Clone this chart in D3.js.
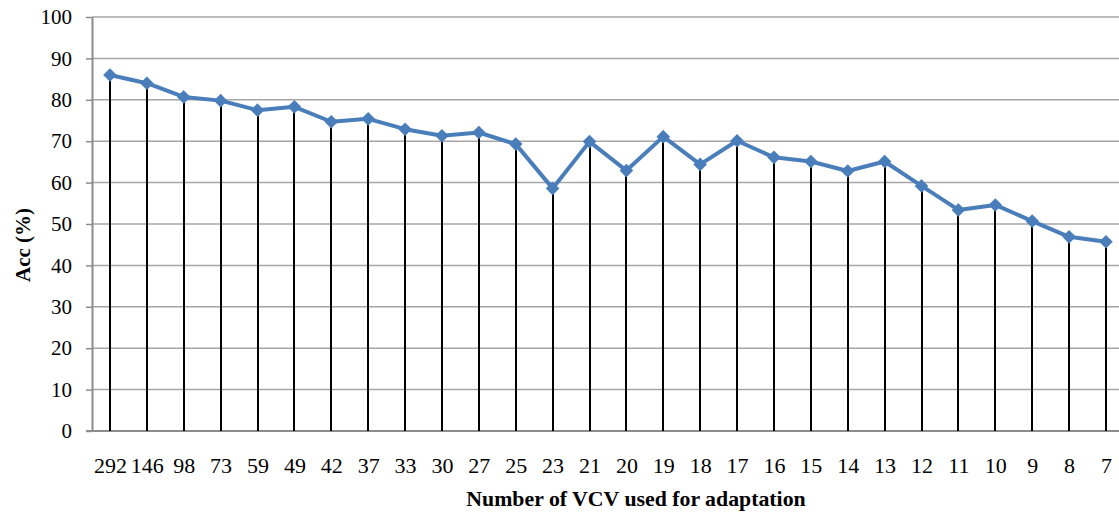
<!DOCTYPE html>
<html>
<head>
<meta charset="utf-8">
<script src="https://cdn.jsdelivr.net/npm/d3@7"></script>
<style>
  html, body { margin: 0; padding: 0; background: #fff; }
  svg { display: block; }
  text { font-family: "Liberation Serif", "Times New Roman", serif; fill: #000; }
</style>
</head>
<body>
<svg id="chart" width="1119" height="513"></svg>
<script>
// Number of VCV samples used for adaptation (x categories)
const categories = ["292", "146", "98", "73", "59", "49", "42", "37", "33", "30", "27", "25", "23", "21",
                    "20", "19", "18", "17", "16", "15", "14", "13", "12", "11", "10", "9", "8", "7"];
// Recognition accuracy (%) for each category
const accuracy = [86.0, 84.0, 80.7, 79.8, 77.5, 78.3, 74.7, 75.4, 72.9, 71.3, 72.1, 69.3, 58.6, 69.9,
                  62.9, 71.1, 64.4, 70.1, 66.1, 65.1, 62.8, 65.1, 59.2, 53.4, 54.6, 50.7, 46.9, 45.7];
// Y axis tick values
const yTicks = [0, 10, 20, 30, 40, 50, 60, 70, 80, 90, 100];

const W = 1119, H = 513;
const plot = { left: 92, right: 1124.4, top: 17, bottom: 431 };
const serif = "'Liberation Serif', 'Times New Roman', serif";

const svg = d3.select("#chart");

const x = d3.scalePoint()
  .domain(categories)
  .range([plot.left - 0.5, plot.right])
  .padding(0.5);

const y = d3.scaleLinear()
  .domain([0, 100])
  .range([plot.bottom, plot.top]);

// Horizontal gridlines
svg.append("g")
  .selectAll("line")
  .data(yTicks.filter(d => d > 0))
  .join("line")
  .attr("x1", plot.left)
  .attr("x2", W)
  .attr("y1", d => y(d))
  .attr("y2", d => y(d))
  .attr("stroke", "#a6a6a6")
  .attr("stroke-width", 1.5);

// Y axis
const yAxis = svg.append("g")
  .attr("transform", `translate(${plot.left},0)`)
  .call(d3.axisLeft(y).tickValues(yTicks).tickSize(6).tickPadding(14).tickSizeOuter(0))
  .attr("font-family", serif)
  .attr("font-size", 21);
yAxis.select(".domain").attr("stroke", "#8c8c8c").attr("stroke-width", 2);
yAxis.selectAll(".tick line").attr("stroke", "#8c8c8c").attr("stroke-width", 1.5);
yAxis.selectAll(".tick text").attr("fill", "#000");

// X axis
const xAxis = svg.append("g")
  .attr("transform", `translate(0,${plot.bottom})`)
  .call(d3.axisBottom(x).tickSize(0).tickPadding(26).tickSizeOuter(0))
  .attr("font-family", serif)
  .attr("font-size", 22);
xAxis.select(".domain").attr("stroke", "#8c8c8c").attr("stroke-width", 2)
  .attr("d", `M${plot.left - 6},0H${W}`);
xAxis.selectAll(".tick text").attr("fill", "#000");

// Drop lines from each point to the baseline
svg.append("g")
  .selectAll("line")
  .data(categories)
  .join("line")
  .attr("x1", d => Math.round(x(d)))
  .attr("x2", d => Math.round(x(d)))
  .attr("y1", (d, i) => y(accuracy[i]))
  .attr("y2", y(0))
  .attr("stroke", "#000")
  .attr("stroke-width", 2);

// Accuracy line
const line = d3.line()
  .x((d, i) => x(categories[i]))
  .y(d => y(d));

svg.append("path")
  .datum(accuracy)
  .attr("d", line)
  .attr("fill", "none")
  .attr("stroke", "#4a7ebb")
  .attr("stroke-width", 4)
  .attr("stroke-linejoin", "round");

// Diamond markers
const diamond = d3.symbol().type(d3.symbolDiamond2).size(84);
svg.append("g")
  .selectAll("path")
  .data(accuracy)
  .join("path")
  .attr("d", diamond)
  .attr("transform", (d, i) => `translate(${x(categories[i])},${y(d)})`)
  .attr("fill", "#4a7ebb")
  .attr("stroke", "#4a7ebb")
  .attr("stroke-width", 1.5);

// Axis titles
svg.append("text")
  .attr("x", 636)
  .attr("y", 506)
  .attr("text-anchor", "middle")
  .attr("font-family", serif)
  .attr("font-size", 21.8)
  .attr("font-weight", "bold")
  .text("Number of VCV used for adaptation");

svg.append("text")
  .attr("transform", "translate(30,245) rotate(-90)")
  .attr("text-anchor", "middle")
  .attr("font-family", serif)
  .attr("font-size", 21)
  .attr("font-weight", "bold")
  .text("Acc (%)");
</script>
</body>
</html>
